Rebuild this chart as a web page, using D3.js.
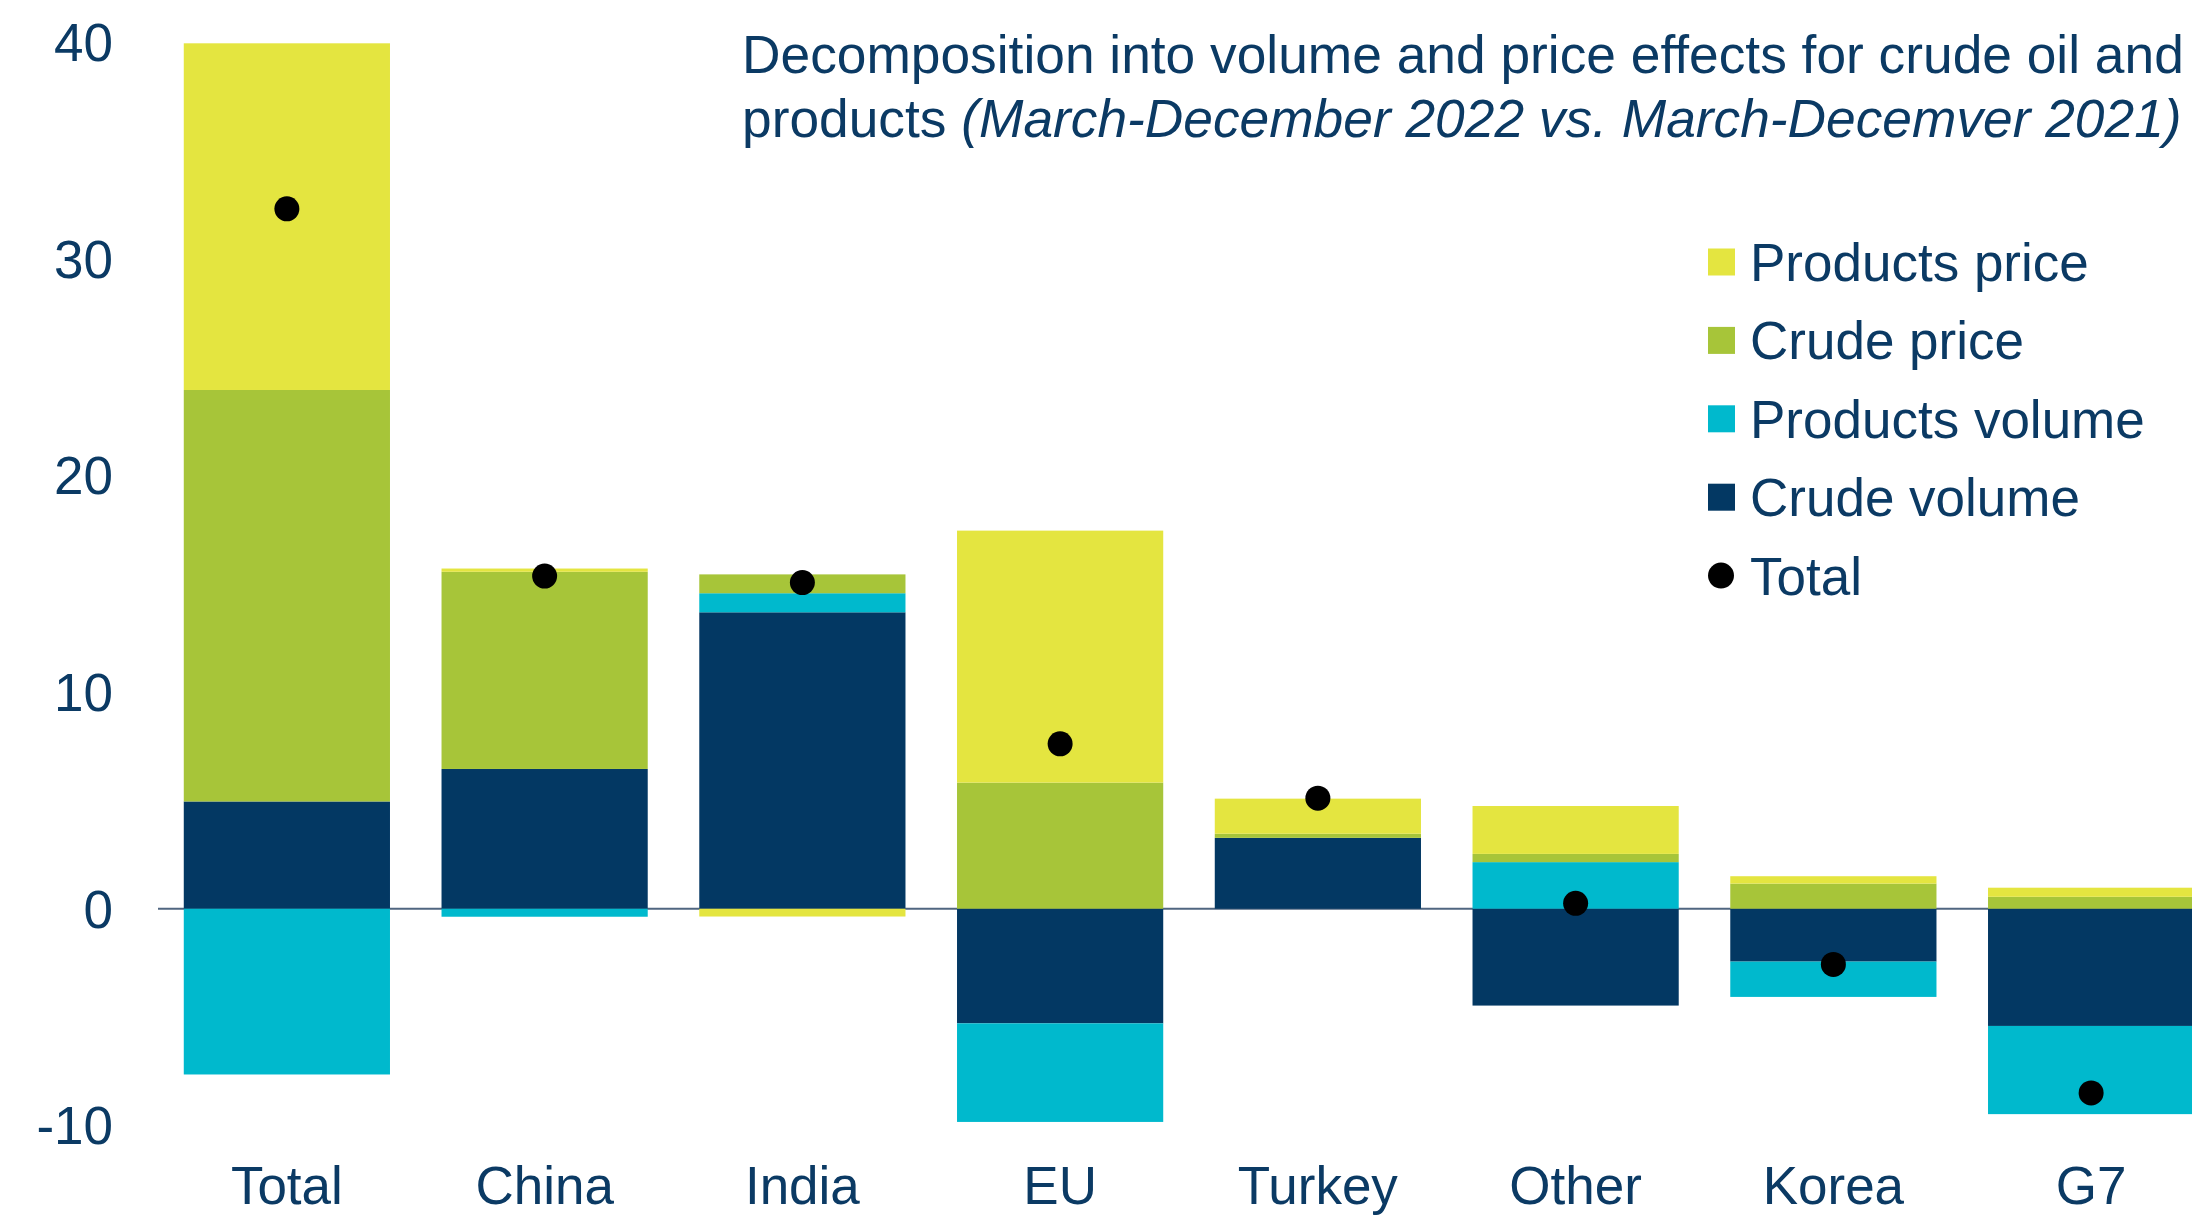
<!DOCTYPE html>
<html>
<head>
<meta charset="utf-8">
<script src="https://cdn.jsdelivr.net/npm/d3@7"></script>
<style>
  html, body { margin: 0; padding: 0; background: #ffffff; }
  svg { display: block; font-family: "Liberation Sans", Arial, sans-serif; }
</style>
</head>
<body>
<svg id="chart" width="2192" height="1216"></svg>
<script>
const categories = ["Total", "China", "India", "EU", "Turkey", "Other", "Korea", "G7"];
const crudeVolume    = [4.95, 6.45, 13.68, -5.29, 3.27, -4.47, -2.44, -5.41];
const productsVolume = [-7.65, -0.37, 0.88, -4.55, 0, 2.15, -1.63, -4.07];
const crudePrice     = [18.99, 9.1, 0.87, 5.82, 0.19, 0.38, 1.16, 0.55];
const productsPrice  = [16.0, 0.15, -0.36, 11.63, 1.62, 2.21, 0.34, 0.42];
const totals         = [32.3, 15.35, 15.05, 7.61, 5.1, 0.25, -2.57, -8.5];
const yTicks = [-10, 0, 10, 20, 30, 40];

const seriesKeys = ["Crude volume", "Products volume", "Crude price", "Products price"];
const seriesValues = [crudeVolume, productsVolume, crudePrice, productsPrice];
const legendItems = ["Products price", "Crude price", "Products volume", "Crude volume", "Total"];
const titleLine1 = "Decomposition into volume and price effects for crude oil and";
const titleLine2a = "products ";
const titleLine2b = "(March-December 2022 vs. March-Decemver 2021)";

const colors = {
  "Products price": "#E4E540",
  "Crude price": "#A7C539",
  "Products volume": "#00B9CD",
  "Crude volume": "#033863",
  "Total": "#000000"
};
const textColor = "#0B3A64";
const fontSize = 53;

const table = categories.map((c, i) => {
  const row = { category: c };
  seriesKeys.forEach((k, j) => row[k] = seriesValues[j][i]);
  return row;
});

const svg = d3.select("#chart");

const x = d3.scaleBand()
  .domain(categories)
  .range([158, 2220])
  .paddingInner(0.2)
  .paddingOuter(0.1);

const y = d3.scaleLinear()
  .domain([-10, 40])
  .range([1125.4, 42]);

// zero line
svg.append("line")
  .attr("x1", 158).attr("x2", 2192)
  .attr("y1", y(0)).attr("y2", y(0))
  .attr("stroke", "#506680")
  .attr("stroke-width", 2);

const stack = d3.stack()
  .keys(seriesKeys)
  .offset(d3.stackOffsetDiverging);
const stacked = stack(table);

svg.append("g").selectAll("g")
  .data(stacked)
  .join("g")
  .attr("fill", d => colors[d.key])
  .selectAll("rect")
  .data(d => d)
  .join("rect")
  .attr("x", d => x(d.data.category))
  .attr("width", x.bandwidth())
  .attr("y", d => y(Math.max(d[0], d[1])))
  .attr("height", d => Math.abs(y(d[0]) - y(d[1])));

// total dots
svg.append("g").selectAll("circle")
  .data(categories)
  .join("circle")
  .attr("cx", (c) => x(c) + x.bandwidth() / 2)
  .attr("cy", (c, i) => y(totals[i]))
  .attr("r", 12.5)
  .attr("fill", colors["Total"]);

// y tick labels
svg.append("g").selectAll("text")
  .data(yTicks)
  .join("text")
  .attr("x", 113)
  .attr("y", d => y(d) + 19)
  .attr("text-anchor", "end")
  .attr("font-size", fontSize)
  .attr("fill", textColor)
  .text(d => d);

// category labels
svg.append("g").selectAll("text")
  .data(categories)
  .join("text")
  .attr("x", c => x(c) + x.bandwidth() / 2)
  .attr("y", 1204)
  .attr("text-anchor", "middle")
  .attr("font-size", fontSize)
  .attr("fill", textColor)
  .text(c => c);

// title
const title = svg.append("text")
  .attr("font-size", 53.3)
  .attr("fill", textColor);
title.append("tspan").attr("x", 742).attr("y", 73).text(titleLine1);
title.append("tspan").attr("x", 742).attr("y", 137).text(titleLine2a);
title.append("tspan").attr("font-style", "italic").text(titleLine2b);

// legend
const legend = svg.append("g");
legendItems.forEach((name, i) => {
  const cy = 262 + 78.4 * i;
  if (name === "Total") {
    legend.append("circle")
      .attr("cx", 1721).attr("cy", cy).attr("r", 13)
      .attr("fill", colors[name]);
  } else {
    legend.append("rect")
      .attr("x", 1708).attr("y", cy - 13.5)
      .attr("width", 27).attr("height", 27)
      .attr("fill", colors[name]);
  }
  legend.append("text")
    .attr("x", 1750).attr("y", cy + 19)
    .attr("font-size", fontSize)
    .attr("fill", textColor)
    .text(name);
});
</script>
</body>
</html>
